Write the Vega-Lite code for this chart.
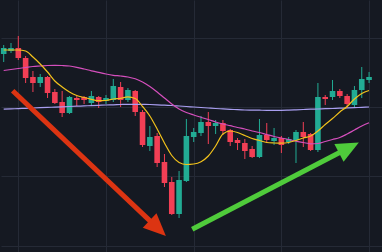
{
  "$schema": "https://vega.github.io/schema/vega-lite/v6.json",
  "width": 382,
  "height": 252,
  "padding": 0,
  "autosize": {"type": "fit", "contains": "padding"},
  "background": "#151922",
  "config": {
    "view": {"stroke": null},
    "axis": {"domain": false, "ticks": false, "labels": false, "title": null, "grid": true, "gridColor": "#252a36", "gridWidth": 1}
  },
  "datasets": {
    "candles": [
      {"i": 0, "open": 246, "high": 255, "low": 238, "close": 252, "ma_fast": 250, "ma_mid": 229.5, "ma_slow": 190.8},
      {"i": 1, "open": 249, "high": 257, "low": 247, "close": 252, "ma_fast": 250, "ma_mid": 230.5, "ma_slow": 191.1},
      {"i": 2, "open": 252, "high": 264, "low": 240, "close": 242, "ma_fast": 250, "ma_mid": 231.5, "ma_slow": 191.4},
      {"i": 3, "open": 242, "high": 244, "low": 217, "close": 222, "ma_fast": 249, "ma_mid": 232.5, "ma_slow": 191.7},
      {"i": 4, "open": 223, "high": 229, "low": 208, "close": 217, "ma_fast": 243, "ma_mid": 233.5, "ma_slow": 192.0},
      {"i": 5, "open": 217, "high": 226, "low": 213, "close": 223, "ma_fast": 236, "ma_mid": 234, "ma_slow": 192.3},
      {"i": 6, "open": 223, "high": 224, "low": 202, "close": 207, "ma_fast": 228, "ma_mid": 234.5, "ma_slow": 192.6},
      {"i": 7, "open": 208, "high": 211, "low": 196, "close": 197, "ma_fast": 219, "ma_mid": 234.7, "ma_slow": 192.9},
      {"i": 8, "open": 198, "high": 209, "low": 183, "close": 187, "ma_fast": 213, "ma_mid": 234.5, "ma_slow": 193.2},
      {"i": 9, "open": 187, "high": 204, "low": 186, "close": 203, "ma_fast": 208, "ma_mid": 234, "ma_slow": 193.5},
      {"i": 10, "open": 202, "high": 204, "low": 194, "close": 200, "ma_fast": 204.5, "ma_mid": 232.7, "ma_slow": 193.8},
      {"i": 11, "open": 203, "high": 204, "low": 196, "close": 200, "ma_fast": 202.5, "ma_mid": 231, "ma_slow": 194.1},
      {"i": 12, "open": 197, "high": 209, "low": 195, "close": 204, "ma_fast": 200.7, "ma_mid": 229.2, "ma_slow": 194.4},
      {"i": 13, "open": 203, "high": 204, "low": 192, "close": 198, "ma_fast": 199.3, "ma_mid": 227.7, "ma_slow": 194.7},
      {"i": 14, "open": 199, "high": 205, "low": 196, "close": 202, "ma_fast": 199.5, "ma_mid": 226, "ma_slow": 195.0},
      {"i": 15, "open": 200, "high": 221, "low": 198, "close": 214, "ma_fast": 201, "ma_mid": 224.7, "ma_slow": 195.2},
      {"i": 16, "open": 213, "high": 218, "low": 193, "close": 200, "ma_fast": 201.7, "ma_mid": 224, "ma_slow": 195.5},
      {"i": 17, "open": 200, "high": 212, "low": 198, "close": 210, "ma_fast": 203.2, "ma_mid": 223, "ma_slow": 195.7},
      {"i": 18, "open": 209, "high": 210, "low": 184, "close": 188, "ma_fast": 201.5, "ma_mid": 221.2, "ma_slow": 195.7},
      {"i": 19, "open": 188, "high": 190, "low": 153, "close": 155, "ma_fast": 193.5, "ma_mid": 218, "ma_slow": 195.6},
      {"i": 20, "open": 154, "high": 174, "low": 149, "close": 163, "ma_fast": 184, "ma_mid": 213.5, "ma_slow": 195.5},
      {"i": 21, "open": 164, "high": 167, "low": 133, "close": 137, "ma_fast": 171, "ma_mid": 208, "ma_slow": 195.2},
      {"i": 22, "open": 138, "high": 146, "low": 113, "close": 117, "ma_fast": 157, "ma_mid": 202, "ma_slow": 194.8},
      {"i": 23, "open": 118, "high": 123, "low": 85, "close": 86, "ma_fast": 144.5, "ma_mid": 196, "ma_slow": 194.5},
      {"i": 24, "open": 86, "high": 129, "low": 82, "close": 120, "ma_fast": 137.5, "ma_mid": 191, "ma_slow": 194.0},
      {"i": 25, "open": 119, "high": 181, "low": 118, "close": 164, "ma_fast": 135.5, "ma_mid": 187.5, "ma_slow": 193.5},
      {"i": 26, "open": 163, "high": 172, "low": 158, "close": 168, "ma_fast": 136, "ma_mid": 185, "ma_slow": 193.0},
      {"i": 27, "open": 167, "high": 184, "low": 164, "close": 178, "ma_fast": 138.3, "ma_mid": 182.7, "ma_slow": 192.5},
      {"i": 28, "open": 178, "high": 188, "low": 156, "close": 174, "ma_fast": 144, "ma_mid": 180.5, "ma_slow": 192.0},
      {"i": 29, "open": 174, "high": 180, "low": 166, "close": 177, "ma_fast": 154, "ma_mid": 178, "ma_slow": 191.5},
      {"i": 30, "open": 177, "high": 180, "low": 165, "close": 169, "ma_fast": 166, "ma_mid": 176, "ma_slow": 191.1},
      {"i": 31, "open": 170, "high": 171, "low": 154, "close": 158, "ma_fast": 169, "ma_mid": 174.3, "ma_slow": 190.7},
      {"i": 32, "open": 160, "high": 162, "low": 150, "close": 157, "ma_fast": 167.5, "ma_mid": 172.5, "ma_slow": 190.3},
      {"i": 33, "open": 157, "high": 161, "low": 141, "close": 149, "ma_fast": 164.5, "ma_mid": 171, "ma_slow": 190.0},
      {"i": 34, "open": 151, "high": 154, "low": 142, "close": 143, "ma_fast": 161.5, "ma_mid": 169, "ma_slow": 189.9},
      {"i": 35, "open": 143, "high": 181, "low": 142, "close": 165, "ma_fast": 159.5, "ma_mid": 167.5, "ma_slow": 189.8},
      {"i": 36, "open": 165, "high": 177, "low": 157, "close": 160, "ma_fast": 157.5, "ma_mid": 165.5, "ma_slow": 189.7},
      {"i": 37, "open": 159, "high": 172, "low": 155, "close": 162, "ma_fast": 157, "ma_mid": 163.5, "ma_slow": 189.7},
      {"i": 38, "open": 162, "high": 164, "low": 147, "close": 155, "ma_fast": 156.8, "ma_mid": 162, "ma_slow": 189.7},
      {"i": 39, "open": 158, "high": 163, "low": 156, "close": 161, "ma_fast": 157.5, "ma_mid": 160.5, "ma_slow": 189.9},
      {"i": 40, "open": 160, "high": 170, "low": 137, "close": 168, "ma_fast": 159.5, "ma_mid": 158.8, "ma_slow": 190.2},
      {"i": 41, "open": 168, "high": 178, "low": 153, "close": 163, "ma_fast": 162, "ma_mid": 157.5, "ma_slow": 190.5},
      {"i": 42, "open": 166, "high": 167, "low": 149, "close": 150, "ma_fast": 164, "ma_mid": 156.2, "ma_slow": 190.8},
      {"i": 43, "open": 150, "high": 217, "low": 148, "close": 203, "ma_fast": 169, "ma_mid": 156.5, "ma_slow": 191.0},
      {"i": 44, "open": 203, "high": 205, "low": 195, "close": 201, "ma_fast": 175.5, "ma_mid": 158.5, "ma_slow": 191.3},
      {"i": 45, "open": 203, "high": 220, "low": 200, "close": 209, "ma_fast": 181.5, "ma_mid": 160.5, "ma_slow": 191.5},
      {"i": 46, "open": 209, "high": 211, "low": 202, "close": 204, "ma_fast": 188, "ma_mid": 162.5, "ma_slow": 191.8},
      {"i": 47, "open": 204, "high": 206, "low": 192, "close": 196, "ma_fast": 193.5, "ma_mid": 166, "ma_slow": 192.0},
      {"i": 48, "open": 195, "high": 214, "low": 193, "close": 210, "ma_fast": 201, "ma_mid": 170, "ma_slow": 192.3},
      {"i": 49, "open": 210, "high": 233, "low": 202, "close": 221, "ma_fast": 206.5, "ma_mid": 174, "ma_slow": 192.7},
      {"i": 50, "open": 220, "high": 228, "low": 217, "close": 223, "ma_fast": 209.5, "ma_mid": 177.3, "ma_slow": 193.0}
    ],
    "arrows": [
      {"arrow": "down", "step": 0, "i": 1.23, "price": 209.3},
      {"arrow": "down", "step": 1, "i": 20.96, "price": 72.6},
      {"arrow": "up", "step": 0, "i": 25.8, "price": 70.7},
      {"arrow": "up", "step": 1, "i": 47.09, "price": 151.8}
    ]
  },
  "encoding": {
    "x": {
      "field": "i", "type": "quantitative",
      "scale": {"domain": [-0.369, 51.77], "nice": false, "zero": false},
      "axis": {"values": [2, 14, 26, 38, 50]}
    }
  },
  "layer": [
    {
      "data": {"name": "candles"},
      "mark": {"type": "rule", "strokeWidth": 1},
      "encoding": {
        "y": {
          "field": "low", "type": "quantitative",
          "scale": {"domain": [48, 300], "nice": false, "zero": false},
          "axis": {"values": [54.5, 89.1, 123.7, 158.3, 192.9, 227.5, 262.1, 296.7]}
        },
        "y2": {"field": "high"},
        "color": {"condition": {"test": "datum.close > datum.open", "value": "#22ab94"}, "value": "#f23f55"}
      }
    },
    {
      "data": {"name": "candles"},
      "mark": {"type": "rule", "strokeWidth": 5.6, "strokeCap": "butt"},
      "encoding": {
        "y": {"field": "open", "type": "quantitative"},
        "y2": {"field": "close"},
        "color": {"condition": {"test": "datum.close > datum.open", "value": "#22ab94"}, "value": "#f23f55"}
      }
    },
    {
      "data": {"name": "candles"},
      "mark": {"type": "line", "color": "#a99ef0", "strokeWidth": 1.2, "interpolate": "monotone"},
      "encoding": {"y": {"field": "ma_slow", "type": "quantitative"}}
    },
    {
      "data": {"name": "candles"},
      "mark": {"type": "line", "color": "#d54fbd", "strokeWidth": 1.2, "interpolate": "monotone"},
      "encoding": {"y": {"field": "ma_mid", "type": "quantitative"}}
    },
    {
      "data": {"name": "candles"},
      "mark": {"type": "line", "color": "#f2c21b", "strokeWidth": 1.2, "interpolate": "monotone"},
      "encoding": {"y": {"field": "ma_fast", "type": "quantitative"}}
    },
    {
      "data": {"name": "arrows"},
      "transform": [{"filter": "datum.arrow === 'down'"}],
      "mark": {"type": "line", "color": "#dc3412", "strokeWidth": 5, "strokeCap": "butt"},
      "encoding": {"y": {"field": "price", "type": "quantitative"}, "order": {"field": "step"}}
    },
    {
      "data": {"name": "arrows"},
      "transform": [{"filter": "datum.arrow === 'down' && datum.step === 1"}],
      "mark": {"type": "point", "shape": "M0,-1L0.8,0.8L-0.8,0.8Z", "filled": true, "opacity": 1, "color": "#dc3412", "size": 620, "angle": 133.5},
      "encoding": {"y": {"field": "price", "type": "quantitative"}}
    },
    {
      "data": {"name": "arrows"},
      "transform": [{"filter": "datum.arrow === 'up'"}],
      "mark": {"type": "line", "color": "#4fcb3b", "strokeWidth": 5, "strokeCap": "butt"},
      "encoding": {"y": {"field": "price", "type": "quantitative"}, "order": {"field": "step"}}
    },
    {
      "data": {"name": "arrows"},
      "transform": [{"filter": "datum.arrow === 'up' && datum.step === 1"}],
      "mark": {"type": "point", "shape": "M0,-1L0.8,0.8L-0.8,0.8Z", "filled": true, "opacity": 1, "color": "#4fcb3b", "size": 620, "angle": 62.5},
      "encoding": {"y": {"field": "price", "type": "quantitative"}}
    }
  ]
}
